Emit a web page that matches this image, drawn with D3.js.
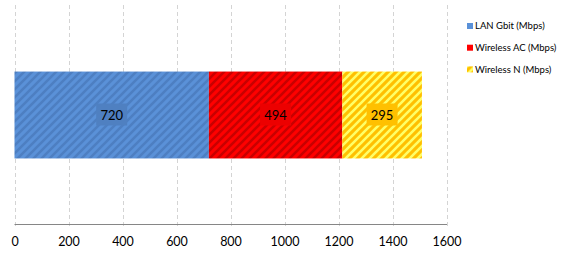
<!DOCTYPE html>
<html>
<head>
<meta charset="utf-8">
<script src="https://cdn.jsdelivr.net/npm/d3@7"></script>
<style>
    body { margin: 0; background: #fff; }
    svg { display: block; font-family: Lato, "Liberation Sans", sans-serif; }
</style>
</head>
<body>
<div id="chart"></div>
<script>
// data
const categories = ["Speed"];
const seriesNames = ["LAN Gbit (Mbps)", "Wireless AC (Mbps)", "Wireless N (Mbps)"];
const seriesValues = [720, 494, 295];
const xTicks = [0, 200, 400, 600, 800, 1000, 1200, 1400, 1600];

// colours: [base, stripe, label box]
const palette = [
    { base: "#5a91d8", stripe: "#4d7fc2", box: "#4f80c1" },
    { base: "#ff0000", stripe: "#c80000", box: "#ec0000" },
    { base: "#ffc000", stripe: "#ffff66", box: "#ffc000" }
];

const width = 583, height = 256;
const plot = { left: 14.5, right: 446.5, top: 5, bottom: 224 };

const svg = d3.select("#chart")
    .append("svg")
    .attr("width", width)
    .attr("height", height);

// striped fills, wide upward diagonal
const defs = svg.append("defs");
palette.forEach((c, i) => {
    const p = defs.append("pattern")
        .attr("id", "stripe" + i)
        .attr("patternUnits", "userSpaceOnUse")
        .attr("width", 8)
        .attr("height", 8);
    p.append("rect").attr("width", 8).attr("height", 8).attr("fill", c.base);
    p.append("path")
        .attr("d", "M-2,2 L2,-2 M0,8 L8,0 M6,10 L10,6")
        .attr("stroke", c.stripe)
        .attr("stroke-width", 2.6);
});

const x = d3.scaleLinear()
    .domain([0, 1600])
    .range([plot.left, plot.right]);

const y = d3.scaleBand()
    .domain(categories)
    .range([plot.top + 1, plot.bottom])
    .paddingInner(0.43)
    .paddingOuter(0.43);

// gridlines
svg.append("g")
    .selectAll("line")
    .data(xTicks)
    .enter()
    .append("line")
    .attr("x1", d => Math.round(x(d)) + 0.5)
    .attr("x2", d => Math.round(x(d)) + 0.5)
    .attr("y1", plot.top)
    .attr("y2", plot.bottom + 4)
    .attr("stroke", "#d4d4d4")
    .attr("stroke-dasharray", "4,3");

// stacked bars
let stacked = [];
let acc = 0;
seriesValues.forEach((v, i) => {
    stacked.push({ name: seriesNames[i], value: v, x0: acc, x1: acc + v, i: i });
    acc += v;
});

const bars = svg.append("g");
bars.selectAll("rect")
    .data(stacked)
    .enter()
    .append("rect")
    .attr("x", d => x(d.x0))
    .attr("width", d => x(d.x1) - x(d.x0))
    .attr("y", y(categories[0]))
    .attr("height", y.bandwidth())
    .attr("fill", d => "url(#stripe" + d.i + ")");

// data labels with solid box
const labels = svg.append("g")
    .selectAll("g")
    .data(stacked)
    .enter()
    .append("g")
    .attr("transform", d => `translate(${(x(d.x0) + x(d.x1)) / 2}, ${y(categories[0]) + y.bandwidth() / 2})`);

labels.append("rect")
    .attr("x", -15.5)
    .attr("y", -11.5)
    .attr("width", 31)
    .attr("height", 22)
    .attr("fill", d => palette[d.i].box);

labels.append("text")
    .attr("text-anchor", "middle")
    .attr("dy", "0.36em")
    .attr("font-size", 13)
    .attr("fill", "#000")
    .text(d => d.value);

// x axis
const axis = svg.append("g")
    .attr("transform", `translate(0, ${plot.bottom + 0.5})`)
    .call(d3.axisBottom(x).tickValues(xTicks).tickSize(0).tickPadding(13).tickFormat(d3.format("d")));
axis.select(".domain").attr("stroke", "#868686").attr("d", `M${plot.left},0H${plot.right + 0.5}`);
axis.selectAll("text")
    .attr("font-family", "Lato, sans-serif")
    .attr("font-size", 12.5)
    .attr("fill", "#000");

// legend
const legend = svg.append("g")
    .selectAll("g")
    .data(seriesNames)
    .enter()
    .append("g")
    .attr("transform", (d, i) => `translate(467, ${23 + i * 21.7})`);

legend.append("rect")
    .attr("width", 6)
    .attr("height", 6)
    .attr("fill", (d, i) => i == 2 ? "url(#stripe2)" : palette[i].base);

legend.append("text")
    .attr("x", 8)
    .attr("y", 3)
    .attr("dy", "0.36em")
    .attr("font-size", 9.5)
    .attr("fill", "#000")
    .text(d => d);
</script>
</body>
</html>
